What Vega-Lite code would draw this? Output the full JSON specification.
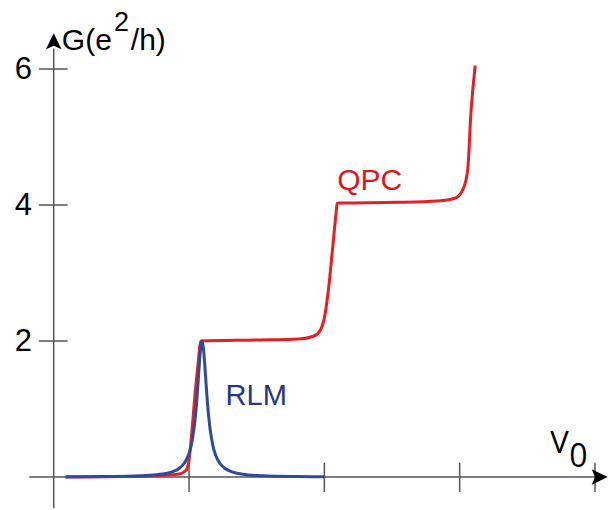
{
  "$schema": "https://vega.github.io/schema/vega-lite/v6.json",
  "width": 608,
  "height": 510,
  "padding": 0,
  "autosize": {"type": "fit", "contains": "padding"},
  "background": "white",
  "config": {"view": {"stroke": null}},
  "data": {"values": [{}]},
  "datasets": {
    "qpc": [
      {"v0": 0.088, "g": 0.0},
      {"v0": 0.706, "g": 0.015},
      {"v0": 0.926, "g": 0.044},
      {"v0": 0.978, "g": 0.10},
      {"v0": 1.0, "g": 0.25},
      {"v0": 1.022, "g": 0.69},
      {"v0": 1.044, "g": 1.21},
      {"v0": 1.066, "g": 1.65},
      {"v0": 1.088, "g": 2.0},
      {"v0": 1.515, "g": 2.015},
      {"v0": 1.81, "g": 2.03},
      {"v0": 1.919, "g": 2.07},
      {"v0": 1.97, "g": 2.16},
      {"v0": 2.0, "g": 2.34},
      {"v0": 2.03, "g": 2.75},
      {"v0": 2.06, "g": 3.34},
      {"v0": 2.085, "g": 3.85},
      {"v0": 2.095, "g": 4.02},
      {"v0": 2.105, "g": 4.03},
      {"v0": 2.54, "g": 4.04},
      {"v0": 2.84, "g": 4.06},
      {"v0": 2.963, "g": 4.10},
      {"v0": 3.022, "g": 4.22},
      {"v0": 3.059, "g": 4.51},
      {"v0": 3.083, "g": 5.35},
      {"v0": 3.115, "g": 6.05}
    ],
    "rlm": [
      {"v0": 0.088, "g": 0.004},
      {"v0": 0.4, "g": 0.008},
      {"v0": 0.65, "g": 0.019},
      {"v0": 0.8, "g": 0.043},
      {"v0": 0.876, "g": 0.077},
      {"v0": 0.926, "g": 0.126},
      {"v0": 0.966, "g": 0.206},
      {"v0": 0.996, "g": 0.324},
      {"v0": 1.016, "g": 0.464},
      {"v0": 1.036, "g": 0.70},
      {"v0": 1.046, "g": 0.873},
      {"v0": 1.056, "g": 1.095},
      {"v0": 1.066, "g": 1.365},
      {"v0": 1.076, "g": 1.66},
      {"v0": 1.086, "g": 1.90},
      {"v0": 1.096, "g": 2.0},
      {"v0": 1.106, "g": 1.90},
      {"v0": 1.116, "g": 1.66},
      {"v0": 1.126, "g": 1.365},
      {"v0": 1.136, "g": 1.095},
      {"v0": 1.146, "g": 0.873},
      {"v0": 1.156, "g": 0.70},
      {"v0": 1.176, "g": 0.464},
      {"v0": 1.196, "g": 0.324},
      {"v0": 1.226, "g": 0.206},
      {"v0": 1.266, "g": 0.126},
      {"v0": 1.316, "g": 0.077},
      {"v0": 1.396, "g": 0.042},
      {"v0": 1.546, "g": 0.019},
      {"v0": 1.796, "g": 0.008},
      {"v0": 2.0, "g": 0.005}
    ],
    "xticks": [{"v": 1}, {"v": 2}, {"v": 3}, {"v": 4}],
    "yticks": [{"v": 2}, {"v": 4}, {"v": 6}]
  },
  "layer": [
    {
      "mark": {"type": "rule", "stroke": "#555555", "strokeWidth": 1.5},
      "encoding": {
        "x": {"datum": -0.18, "type": "quantitative", "scale": {"domain": [-0.397, 4.074], "nice": false, "zero": false}, "axis": null},
        "x2": {"datum": 4.0},
        "y": {"datum": 0, "type": "quantitative", "scale": {"domain": [-0.485, 7.015], "nice": false, "zero": false}, "axis": null}
      }
    },
    {
      "mark": {"type": "rule", "stroke": "#555555", "strokeWidth": 1.5},
      "encoding": {
        "x": {"datum": 0, "type": "quantitative", "axis": null},
        "y": {"datum": -0.46, "type": "quantitative", "axis": null},
        "y2": {"datum": 6.3}
      }
    },
    {
      "data": {"name": "xticks"},
      "mark": {"type": "rule", "stroke": "#555555", "strokeWidth": 1.5},
      "encoding": {
        "x": {"field": "v", "type": "quantitative", "axis": null},
        "y": {"datum": -0.22, "type": "quantitative", "axis": null},
        "y2": {"datum": 0.21}
      }
    },
    {
      "data": {"name": "yticks"},
      "mark": {"type": "rule", "stroke": "#555555", "strokeWidth": 1.5},
      "encoding": {
        "y": {"field": "v", "type": "quantitative", "axis": null},
        "x": {"datum": -0.11, "type": "quantitative", "axis": null},
        "x2": {"datum": 0.103}
      }
    },
    {
      "data": {"name": "yticks"},
      "mark": {"type": "text", "align": "right", "baseline": "middle", "font": "Liberation Sans", "fontSize": 31, "color": "#000000", "dy": 1},
      "encoding": {
        "y": {"field": "v", "type": "quantitative", "axis": null},
        "x": {"datum": -0.16, "type": "quantitative", "axis": null},
        "text": {"field": "v", "type": "quantitative"}
      }
    },
    {
      "mark": {"type": "point", "shape": "M0,-1 L0.9,0.85 L0,0.45 L-0.9,0.85 Z", "filled": true, "color": "#000000", "opacity": 1, "size": 300},
      "encoding": {
        "x": {"datum": 0, "type": "quantitative", "axis": null},
        "y": {"datum": 6.4, "type": "quantitative", "axis": null}
      }
    },
    {
      "mark": {"type": "point", "shape": "M1,0 L-0.85,0.9 L-0.45,0 L-0.85,-0.9 Z", "filled": true, "color": "#000000", "opacity": 1, "size": 300},
      "encoding": {
        "x": {"datum": 4.03, "type": "quantitative", "axis": null},
        "y": {"datum": 0, "type": "quantitative", "axis": null}
      }
    },
    {
      "data": {"name": "qpc"},
      "mark": {"type": "line", "color": "#e41f26", "strokeWidth": 3, "interpolate": "monotone"},
      "encoding": {
        "x": {"field": "v0", "type": "quantitative", "axis": null},
        "y": {"field": "g", "type": "quantitative", "axis": null}
      }
    },
    {
      "data": {"name": "rlm"},
      "mark": {"type": "line", "color": "#2e4a9b", "strokeWidth": 3, "interpolate": "monotone"},
      "encoding": {
        "x": {"field": "v0", "type": "quantitative", "axis": null},
        "y": {"field": "g", "type": "quantitative", "axis": null}
      }
    },
    {
      "mark": {"type": "text", "text": "QPC", "align": "left", "baseline": "alphabetic", "font": "Liberation Sans", "fontSize": 30, "color": "#dd1520"},
      "encoding": {
        "x": {"datum": 2.095, "type": "quantitative", "axis": null},
        "y": {"datum": 4.22, "type": "quantitative", "axis": null}
      }
    },
    {
      "mark": {"type": "text", "text": "RLM", "align": "left", "baseline": "alphabetic", "font": "Liberation Sans", "fontSize": 29, "color": "#26358c"},
      "encoding": {
        "x": {"datum": 1.27, "type": "quantitative", "axis": null},
        "y": {"datum": 1.059, "type": "quantitative", "axis": null}
      }
    },
    {
      "mark": {"type": "text", "text": "G(e", "align": "left", "baseline": "alphabetic", "font": "Liberation Sans", "fontSize": 30, "color": "#000000"},
      "encoding": {
        "x": {"datum": 0.06, "type": "quantitative", "axis": null},
        "y": {"datum": 6.28, "type": "quantitative", "axis": null}
      }
    },
    {
      "mark": {"type": "text", "text": "2", "align": "left", "baseline": "alphabetic", "font": "Liberation Sans", "fontSize": 27, "color": "#000000"},
      "encoding": {
        "x": {"datum": 0.445, "type": "quantitative", "axis": null},
        "y": {"datum": 6.56, "type": "quantitative", "axis": null}
      }
    },
    {
      "mark": {"type": "text", "text": "/h)", "align": "left", "baseline": "alphabetic", "font": "Liberation Sans", "fontSize": 30, "color": "#000000"},
      "encoding": {
        "x": {"datum": 0.57, "type": "quantitative", "axis": null},
        "y": {"datum": 6.28, "type": "quantitative", "axis": null}
      }
    },
    {
      "mark": {"type": "text", "text": "V", "align": "left", "baseline": "alphabetic", "font": "Open Sans", "fontSize": 31, "color": "#000000"},
      "encoding": {
        "x": {"datum": 3.67, "type": "quantitative", "axis": null},
        "y": {"datum": 0.353, "type": "quantitative", "axis": null}
      }
    },
    {
      "mark": {"type": "text", "text": "0", "align": "left", "baseline": "alphabetic", "font": "Open Sans", "fontSize": 32, "color": "#000000"},
      "encoding": {
        "x": {"datum": 3.81, "type": "quantitative", "axis": null},
        "y": {"datum": 0.147, "type": "quantitative", "axis": null}
      }
    }
  ]
}
